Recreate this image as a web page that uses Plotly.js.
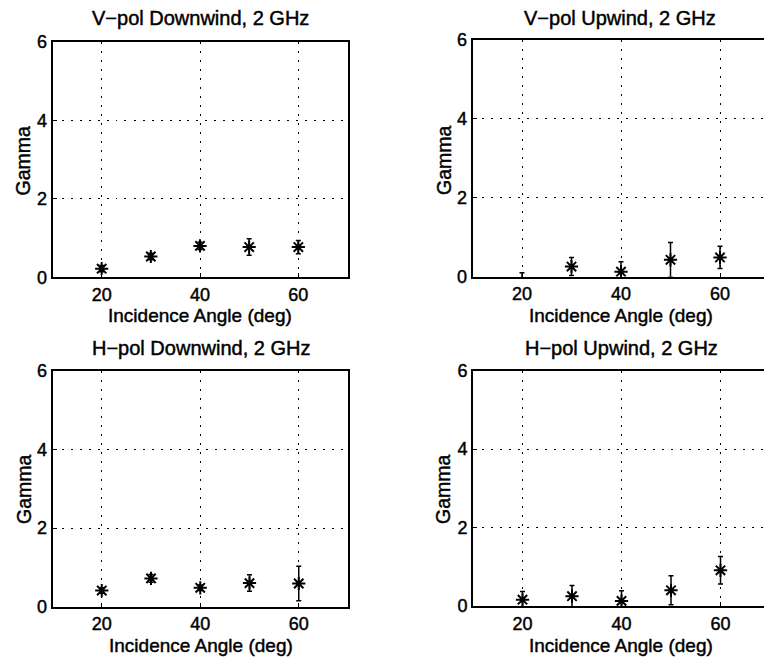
<!DOCTYPE html>
<html>
<head>
<meta charset="utf-8">
<script src="https://cdn.plot.ly/plotly-3.0.1.min.js"></script>
<style>
html, body { margin: 0; padding: 0; background: #fff; overflow: hidden; width: 764px; height: 663px; }
#chart { width: 800px; height: 663px; }
#chart svg text { stroke: #000; stroke-width: 0.45px; }
</style>
</head>
<body>
<div id="chart"></div>
<script>
// ---- data ----
const angles = [20, 30, 40, 50, 60];

const vDownGamma = [0.22, 0.53, 0.80, 0.77, 0.77];
const vDownErr   = [0.08, 0.08, 0.09, 0.21, 0.17];

const vUpGamma = [-0.15, 0.26, 0.13, 0.43, 0.49];
const vUpErr   = [0.25, 0.23, 0.25, 0.44, 0.28];

const hDownGamma = [0.41, 0.72, 0.48, 0.60, 0.59];
const hDownErr   = [0.07, 0.10, 0.07, 0.21, 0.44];

const hUpGamma = [0.16, 0.25, 0.13, 0.40, 0.91];
const hUpErr   = [0.21, 0.27, 0.26, 0.37, 0.35];

const titles = ["V\u2212pol Downwind, 2 GHz", "V\u2212pol Upwind, 2 GHz",
                "H\u2212pol Downwind, 2 GHz", "H\u2212pol Upwind, 2 GHz"];
const xTitle = "Incidence Angle (deg)";
const yTitle = "Gamma";
const xTicks = [20, 40, 60];
const yTicks = [0, 2, 4, 6];

// ---- drawing ----
const W = 800, H = 663;
const FONT = "Liberation Sans, Arial, Helvetica, sans-serif";

function trace(y, err, idx) {
  const s = idx === 1 ? "" : String(idx);
  return {
    x: angles, y: y, type: "scatter", mode: "markers",
    xaxis: "x" + s, yaxis: "y" + s,
    marker: { symbol: "asterisk-open", size: 11, color: "#000", line: { color: "#000", width: 2 } },
    error_y: { type: "data", array: err, visible: true, color: "#000", thickness: 1.5, width: 2.5 },
    showlegend: false, hoverinfo: "skip"
  };
}

const data = [
  trace(vDownGamma, vDownErr, 1),
  trace(vUpGamma, vUpErr, 2),
  trace(hDownGamma, hDownErr, 3),
  trace(hUpGamma, hUpErr, 4)
];

function xa(l, r, anchor) {
  return {
    domain: [l / W, r / W], anchor: anchor, range: [10, 70],
    tickmode: "array", tickvals: xTicks, ticktext: xTicks.map(String),
    showgrid: true, gridcolor: "#000", gridwidth: 1, griddash: "2px,7px",
    zeroline: false, showline: true, linecolor: "#000", linewidth: 2, mirror: true,
    ticks: "inside", ticklen: 4, tickcolor: "#000", tickwidth: 1,
    tickfont: { family: FONT, size: 18, color: "#000" }, fixedrange: true
  };
}
function ya(top, bottom, anchor) {
  return {
    domain: [(H - bottom) / H, (H - top) / H], anchor: anchor, range: [0, 6],
    tickmode: "array", tickvals: yTicks, ticktext: yTicks.map(String),
    showgrid: true, gridcolor: "#000", gridwidth: 1, griddash: "2px,7px",
    zeroline: false, showline: true, linecolor: "#000", linewidth: 2, mirror: true,
    ticks: "inside", ticklen: 4, tickcolor: "#000", tickwidth: 1,
    tickfont: { family: FONT, size: 18, color: "#000" }, fixedrange: true
  };
}

function ann(text, x, y, size, angle) {
  return {
    text: text, xref: "paper", yref: "paper", x: x / W, y: (H - y) / H,
    xanchor: "center", yanchor: "middle", showarrow: false, textangle: angle || 0,
    font: { family: FONT, size: size, color: "#000" }
  };
}

const layout = {
  width: W, height: H,
  margin: { l: 0, r: 0, t: 0, b: 0 },
  paper_bgcolor: "#fff", plot_bgcolor: "#fff",
  xaxis: xa(52.5, 347.5, "y"),
  yaxis: ya(41.7, 277.3, "x"),
  xaxis2: xa(472.5, 769.5, "y2"),
  yaxis2: ya(39.5, 276.8, "x2"),
  xaxis3: xa(52.5, 348, "y3"),
  yaxis3: ya(370.7, 606.7, "x3"),
  xaxis4: xa(473, 770, "y4"),
  yaxis4: ya(370.7, 606, "x4"),
  annotations: [
    ann(titles[0], 200, 18, 20), ann(titles[1], 620, 18, 20),
    ann(titles[2], 201, 348, 20), ann(titles[3], 621, 348, 20),
    ann(xTitle, 200, 315, 19), ann(xTitle, 621, 315, 19),
    ann(xTitle, 201, 645, 19), ann(xTitle, 621, 645, 19),
    ann(yTitle, 22.5, 161, 19.5, -90), ann(yTitle, 444, 160, 19.5, -90),
    ann(yTitle, 24, 489, 19.5, -90), ann(yTitle, 443, 489, 19.5, -90)
  ]
};

Plotly.newPlot("chart", data, layout, { displayModeBar: false, staticPlot: true });
</script>
</body>
</html>
